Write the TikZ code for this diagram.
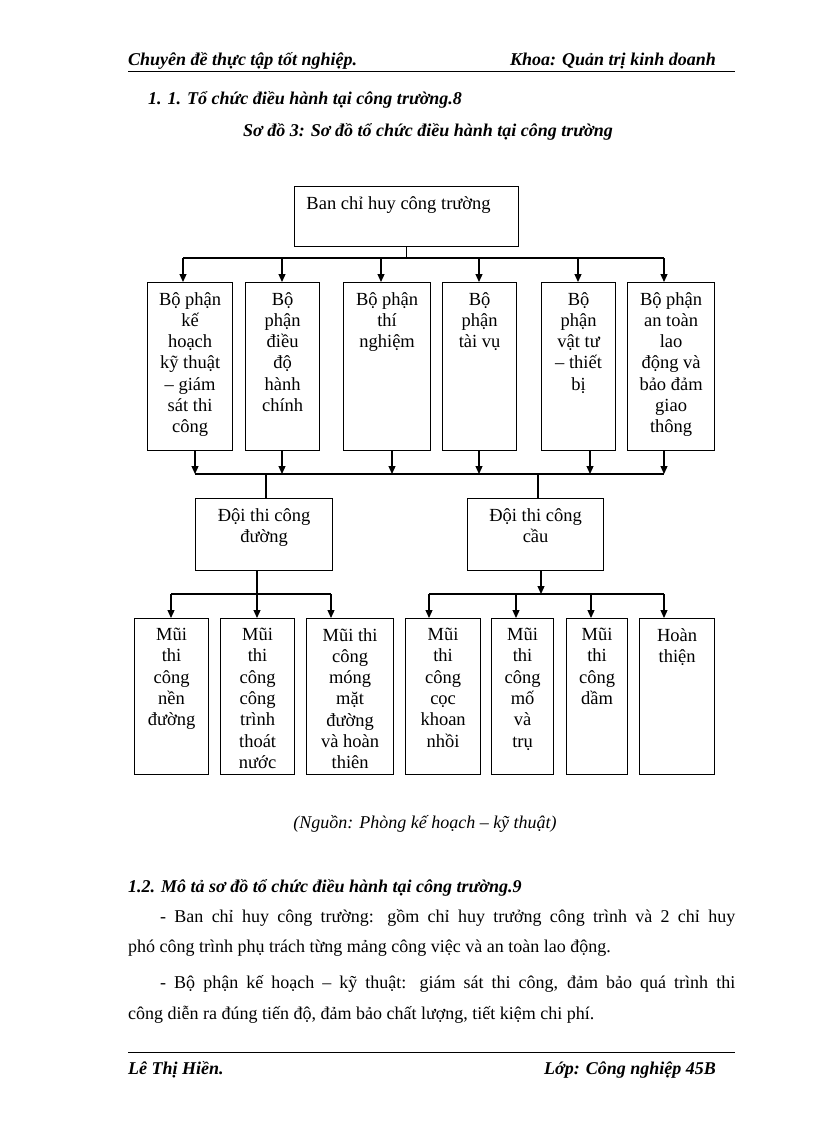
\documentclass[tikz,border=0pt]{standalone}
\usepackage{fontspec}
\setmainfont{Liberation Serif}
\usetikzlibrary{arrows.meta,calc}
\begin{document}
\begin{tikzpicture}[x=1pt,y=-1pt,
  box/.style={draw,line width=1.2pt,anchor=north west,inner sep=0pt},
  txt/.style={anchor=north,align=center,font=\fontsize{18.5}{21.3}\selectfont,inner sep=0pt},
  ln/.style={line width=1.2pt},
  arr/.style={line width=1.2pt,-{Triangle[length=8pt,width=7pt]}},
  hd/.style={font=\fontsize{18}{20}\selectfont\bfseries\itshape,inner sep=0pt},
  body/.style={font=\fontsize{18}{20}\selectfont,inner sep=0pt,anchor=base west}]
\useasboundingbox (0,0) rectangle (816,1123);
% header
\node[hd,anchor=base west] (h1) at (128,66) {Chuyên đề thực tập tốt nghiệp.};
\node[hd,anchor=base east] (h2) at (716,66) {Khoa: Quản trị kinh doanh};
\draw[line width=1pt] (128,72) -- (735,72);
\node[hd,anchor=base west] (t1) at (148,105) {1. 1. Tổ chức điều hành tại công trường.8};
\node[hd,anchor=base] (t2) at (428,137) {Sơ đồ 3: Sơ đồ tổ chức điều hành tại công trường};
% top
\node[box,minimum width=224pt,minimum height=60pt] (top) at (294,186) {};
\node[txt] (toptx) at ($(top.north)+(-8,10)$) {Ban chỉ huy công trường};
% row 2
\foreach \n/\x/\w/\t in {b1/147/85/{Bộ phận\\kế\\hoạch\\kỹ thuật\\– giám\\sát thi\\công},
  b2/245/74/{Bộ\\phận\\điều\\độ\\hành\\chính},
  b3/343/87/{Bộ phận\\thí\\nghiệm},
  b4/442/74/{Bộ\\phận\\tài vụ},
  b5/541/74/{Bộ\\phận\\vật tư\\– thiết\\bị},
  b6/627/87/{Bộ phận\\an toàn\\lao\\động và\\bảo đảm\\giao\\thông}}{
  \node[box,minimum width=\w pt,minimum height=168pt] (\n) at (\x,282) {};
  \node[txt] (\n t) at ($(\n.north)+(0,10)$) {\t};
}
\coordinate (busA) at (405,258);
\draw[ln] (top.south) -- (top.south |- busA);
\draw[ln] (183,258) -- (664,258);
\foreach \n/\x in {b1/183,b2/282,b3/381,b4/479,b5/578,b6/664}
  \draw[arr] (\x,258) -- (\x,282);
% bus 2
\draw[ln] (195,474) -- (664,474);
\foreach \x in {195,282,392,479,590,664}
  \draw[arr] (\x,450) -- (\x,474);
% teams
\node[box,minimum width=137pt,minimum height=72pt] (d1) at (195,498) {};
\node[txt] (d1t) at ($(d1.north)+(0,10)$) {Đội thi công\\đường};
\node[box,minimum width=136pt,minimum height=72pt] (d2) at (467,498) {};
\node[txt] (d2t) at ($(d2.north)+(0,10)$) {Đội thi công\\cầu};
\draw[ln] (266,474) -- (266,498);
\draw[ln] (538,474) -- (538,498);
% row 3
\foreach \n/\x/\w/\t in {c1/134/74/{Mũi\\thi\\công\\nền\\đường},
  c2/220/74/{Mũi\\thi\\công\\công\\trình\\thoát\\nước},
  c3/306/87/{Mũi thi\\công\\móng\\mặt\\đường\\và hoàn\\thiên},
  c4/405/75/{Mũi\\thi\\công\\cọc\\khoan\\nhồi},
  c5/491/62/{Mũi\\thi\\công\\mố\\và\\trụ},
  c6/566/61/{Mũi\\thi\\công\\dầm},
  c7/639/75/{Hoàn\\thiện}}{
  \node[box,minimum width=\w pt,minimum height=156pt] (\n) at (\x,618) {};
  \node[txt] (\n t) at ($(\n.north)+(0,10)$) {\t};
}
\draw[ln] (257,570) -- (257,594);
\draw[ln] (171,594) -- (331,594);
\foreach \x in {171,257,331} \draw[arr] (\x,594) -- (\x,618);
\draw[arr] (541,570) -- (541,594);
\draw[ln] (429,594) -- (664,594);
\foreach \x in {429,516,591,664} \draw[arr] (\x,594) -- (\x,618);
% caption
\node[font=\fontsize{18}{20}\selectfont\itshape,anchor=base,inner sep=0pt] (cap) at (425,828) {(Nguồn: Phòng kế hoạch – kỹ thuật)};
\node[hd,anchor=base west] (s2) at (128,892) {1.2. Mô tả sơ đồ tổ chức điều hành tại công trường.9};
\node[body] (p1) at (160,922) {\makebox[575pt][s]{- Ban chỉ huy công trường: gồm chỉ huy trưởng công trình và 2 chỉ huy}};
\node[body] (p2) at (128,952) {phó công trình phụ trách từng mảng công việc và an toàn lao động.};
\node[body] (p3) at (160,988) {\makebox[575pt][s]{- Bộ phận kế hoạch – kỹ thuật: giám sát thi công, đảm bảo quá trình thi}};
\node[body] (p4) at (128,1019) {công diễn ra đúng tiến độ, đảm bảo chất lượng, tiết kiệm chi phí.};
% footer
\draw[line width=1pt] (128,1052) -- (735,1052);
\node[hd,anchor=base west] (f1) at (128,1074) {Lê Thị Hiền.};
\node[hd,anchor=base east] (f2) at (716,1074) {Lớp: Công nghiệp 45B};
\end{tikzpicture}
\end{document}
